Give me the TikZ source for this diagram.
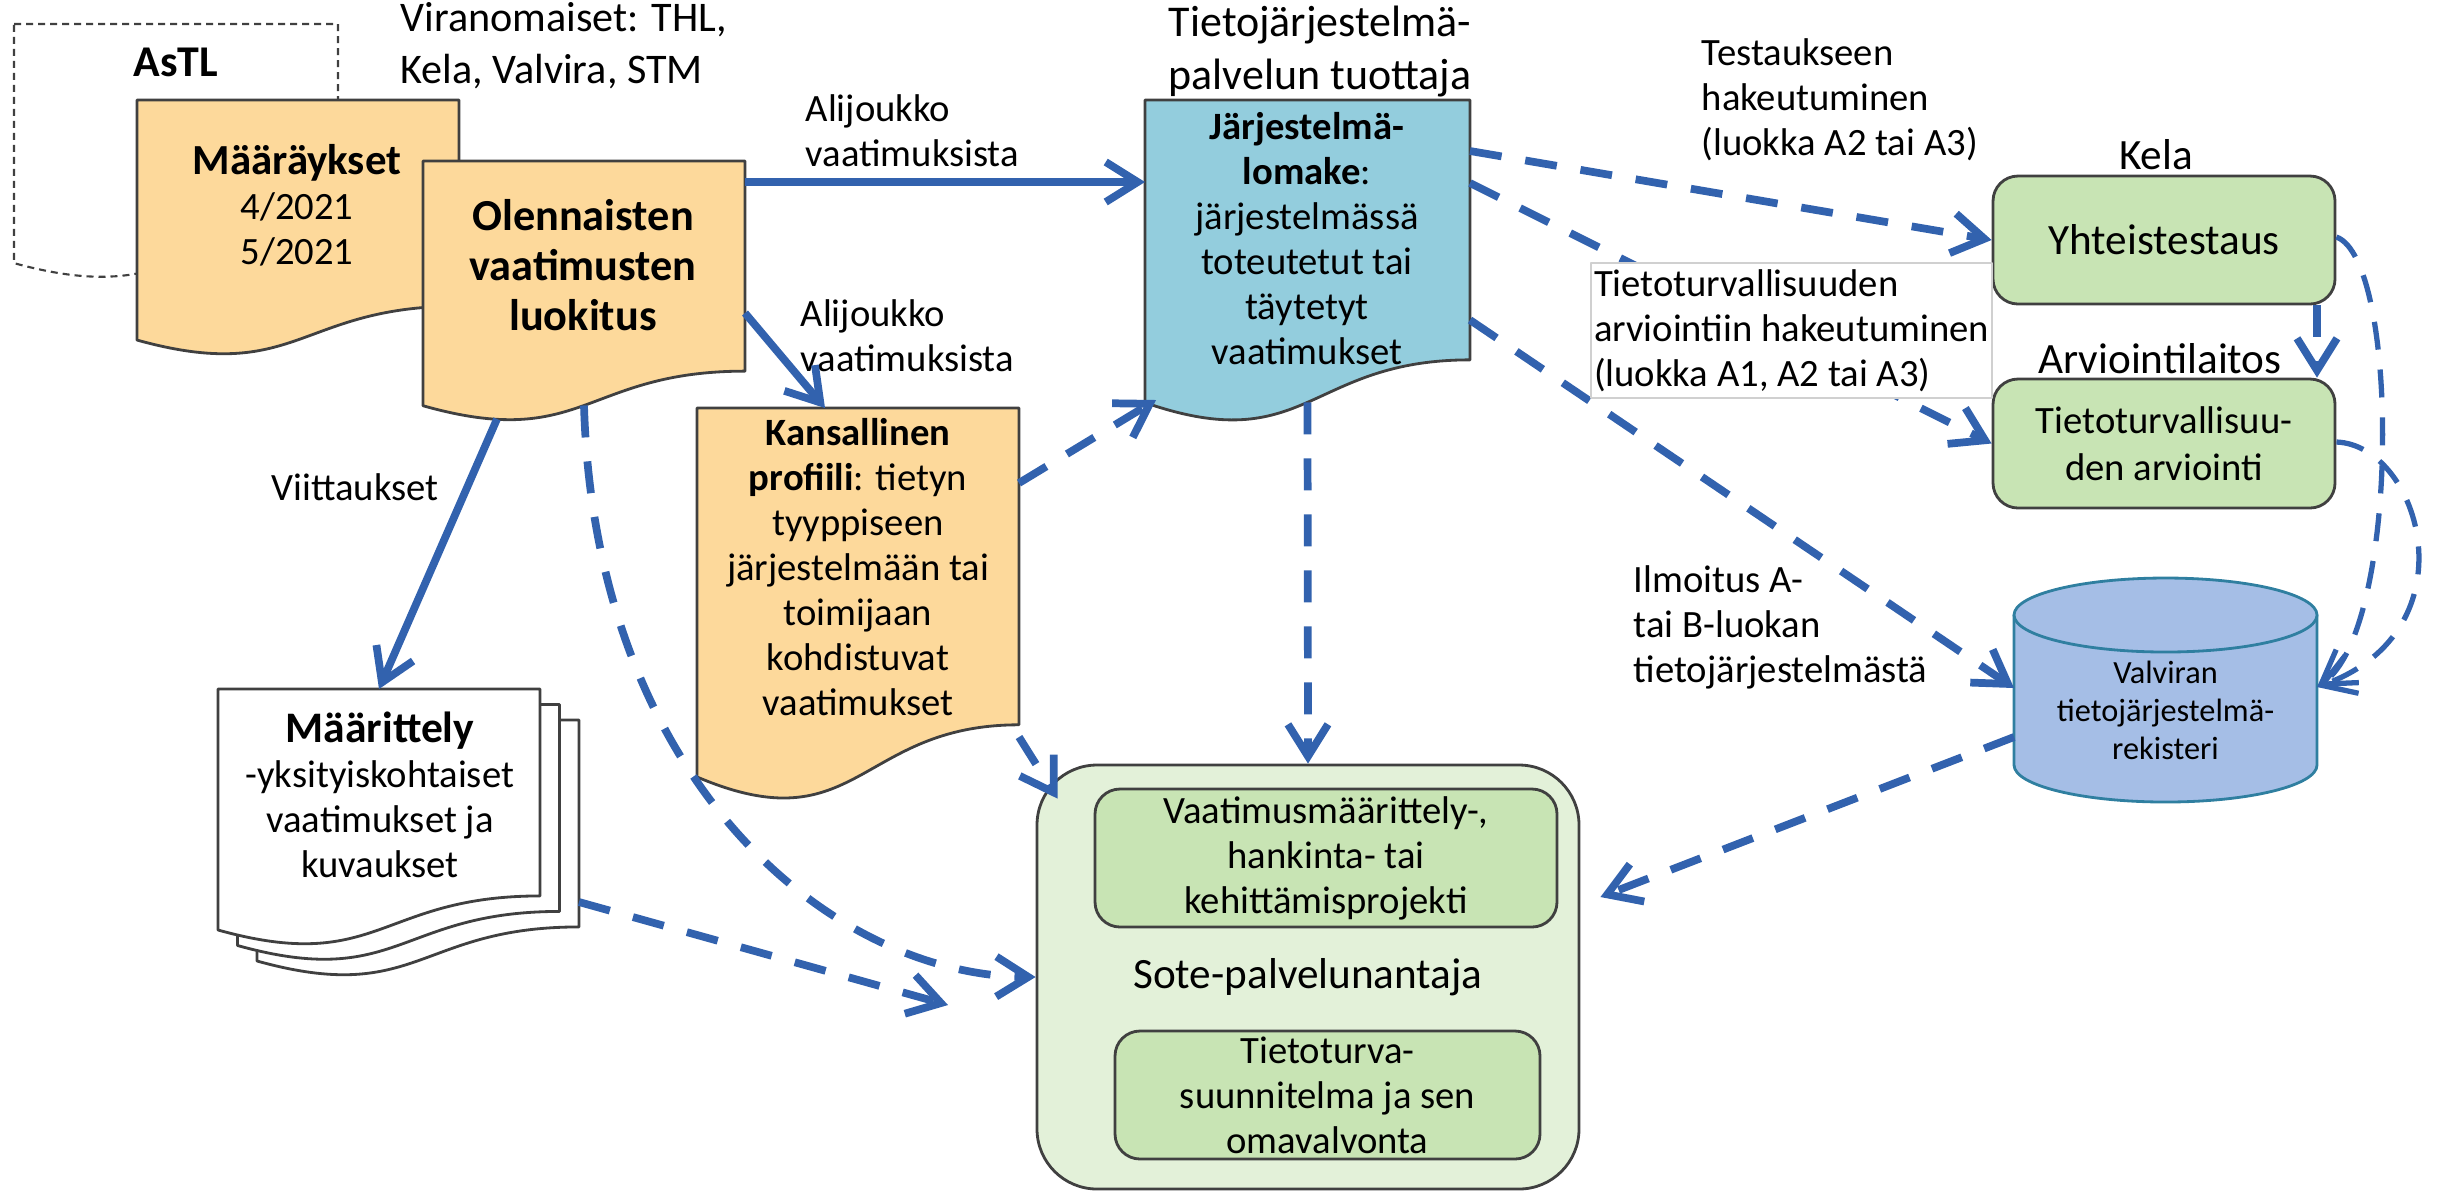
\documentclass[tikz,border=0pt]{standalone}
\usepackage{fontspec}
\setmainfont{Carlito}
\usetikzlibrary{arrows.meta, calc}
\definecolor{docorange}{HTML}{FDD99B}
\definecolor{docblue}{HTML}{93CDDD}
\definecolor{boxgreen}{HTML}{C8E4B4}
\definecolor{sotegreen}{HTML}{E3F1D9}
\definecolor{cylfill}{HTML}{A5BEE6}
\definecolor{cylline}{HTML}{2F7FA0}
\definecolor{flowblue}{HTML}{3262AE}
\definecolor{edgegray}{HTML}{404040}
\definecolor{labelgray}{HTML}{D0D0D0}

\begin{document}
\begin{tikzpicture}[x=1cm, y=-1cm, line join=round]
    % Tyylit: kehykset, tekstit ja nuolet
    \tikzset{
      frame/.style={anchor=north west, inner sep=0pt, outer sep=0pt},
      docline/.style={draw=edgegray, line width=0.8pt},
      body/.style={font=\fontsize{11}{12.8}\selectfont, align=center, inner sep=0pt},
      heading/.style={font=\fontsize{12.3}{14.8}\selectfont, align=center, inner sep=0pt},
      greenbox/.style={draw=edgegray, line width=0.8pt, fill=boxgreen, rounded corners=0.25cm, inner sep=0pt, align=center},
      flow/.style={draw=flowblue, line width=2.2pt, -{Straight Barb[length=3.2mm, width=4mm]}},
      flowdash/.style={flow, dash pattern=on 0.32cm off 0.24cm},
      thindash/.style={flow, line width=1.5pt, dash pattern=on 0.28cm off 0.2cm}
    }
    % Dokumenttisymboli (aaltoileva alareuna) kehyssolmun ympärille
    \def\docshape#1#2#3{%
      \path[docline, fill=#2, #3] (#1.north west) -- (#1.north east)
        -- ($(#1.north east)!0.802!(#1.south east)$)
        .. controls ($(#1.north)!0.802!(#1.south)$) and ($(#1.north)!1.1075!(#1.south)$)
        .. ($(#1.north west)!0.934!(#1.south west)$) -- cycle;}

    \useasboundingbox (0,0) rectangle (24.4,11.91);

    % Dokumenttien kehykset
    \node[frame, minimum width=3.24cm, minimum height=2.56cm] (astl) at (0.14,0.24) {};
    \node[frame, minimum width=3.22cm, minimum height=2.57cm] (maaray) at (1.37,1.00) {};
    \node[frame, minimum width=3.22cm, minimum height=2.62cm] (olen) at (4.23,1.61) {};
    \node[frame, minimum width=3.25cm, minimum height=3.24cm] (jarj) at (11.45,1.00) {};
    \node[frame, minimum width=3.22cm, minimum height=3.95cm] (kans) at (6.97,4.08) {};

    \docshape{astl}{white}{line width=0.6pt, dash pattern=on 0.07cm off 0.05cm}
    \docshape{maaray}{docorange}{}
    \docshape{olen}{docorange}{}
    \docshape{jarj}{docblue}{}
    \docshape{kans}{docorange}{}

    % Määrittely: pino sivuja
    \foreach \i in {2,1} {
      \node[frame, minimum width=3.22cm, minimum height=2.58cm] (maar\i) at ({2.18+0.195*\i},{6.89+0.155*\i}) {};
      \docshape{maar\i}{white}{}
    }
    \node[frame, minimum width=3.22cm, minimum height=2.58cm] (maar) at (2.18,6.89) {};
    \docshape{maar}{white}{}

    % Sote-palvelunantaja ja sen sisälaatikot
    \node[draw=edgegray, line width=0.8pt, fill=sotegreen, rounded corners=0.6cm,
          minimum width=5.42cm, minimum height=4.24cm, heading] (sote) at (13.08,9.77) {Sote-palvelunantaja};
    \node[greenbox, body, minimum width=4.62cm, minimum height=1.38cm] (proj) at (13.26,8.58) {Vaatimusmäärittely-,\\hankinta- tai\\kehittämisprojekti};
    \node[greenbox, body, minimum width=4.25cm, minimum height=1.28cm] (omav) at (13.275,10.95) {Tietoturva-\\suunnitelma ja sen\\omavalvonta};

    % Kela ja arviointilaitos
    \node[greenbox, heading, minimum width=3.42cm, minimum height=1.28cm] (yht) at (21.64,2.40) {Yhteistestaus};
    \node[greenbox, body, font=\fontsize{11}{13.4}\selectfont, minimum width=3.42cm, minimum height=1.29cm] (arv) at (21.64,4.435) {Tietoturvallisuu-\\den arviointi};
    \node[heading] (kela) at (21.56,1.55) {Kela};
    \node[heading] (arvlaitos) at (21.60,3.59) {Arviointilaitos};

    % Valviran rekisteri (sylinteri)
    \node[frame, minimum width=3.03cm, minimum height=2.24cm] (valv) at (20.14,5.78) {};
    \path[draw=cylline, line width=0.8pt, fill=cylfill] (20.14,6.15) -- (20.14,7.65)
      .. controls (20.14,7.854) and (20.818,8.02) .. (21.655,8.02)
      .. controls (22.492,8.02) and (23.17,7.854) .. (23.17,7.65) -- (23.17,6.15) -- cycle;
    \path[draw=cylline, line width=0.8pt, fill=cylfill] (21.655,6.15) ellipse [x radius=1.515cm, y radius=0.37cm];
    \node[body, font=\fontsize{9.2}{10.8}\selectfont] (valvtxt) at (21.655,7.10) {Valviran\\tietojärjestelmä-\\rekisteri};

    % Dokumenttien tekstit
    \node[body, font=\fontsize{12.5}{14}\selectfont\bfseries] (astltxt) at (1.76,0.62) {AsTL};
    \node[body] (maaraytxt) at (2.97,2.05) {{\fontsize{12.2}{14}\selectfont\bfseries Määräykset}\\4/2021\\5/2021};
    \node[body, font=\fontsize{12.6}{14.2}\selectfont\bfseries] (olentxt) at (5.83,2.65) {Olennaisten\\vaatimusten\\luokitus};
    \node[body] (jarjtxt) at (13.07,2.385) {\textbf{Järjestelmä-}\\\textbf{lomake}:\\järjestelmässä\\toteutetut tai\\täytetyt\\vaatimukset};
    \node[body] (kanstxt) at (8.58,5.675) {\textbf{Kansallinen}\\\textbf{profiili}: tietyn\\tyyppiseen\\järjestelmään tai\\toimijaan\\kohdistuvat\\vaatimukset};
    \node[body] (maartxt) at (3.80,7.95) {{\fontsize{12.4}{14}\selectfont\bfseries Määrittely}\\-yksityiskohtaiset\\vaatimukset ja\\kuvaukset};

    % Irralliset otsikot ja nuolten tekstit
    \node[heading, font=\fontsize{12.5}{15}\selectfont] (tuottaja) at (13.20,0.515) {Tietojärjestelmä-\\palvelun tuottaja};
    \node[heading, font=\fontsize{12}{14.8}\selectfont, anchor=west, align=left] (viran) at (4.00,0.46) {Viranomaiset: THL,\\Kela, Valvira, STM};
    \node[body, anchor=west, align=left] (ali1) at (8.05,1.305) {Alijoukko\\vaatimuksista};
    \node[body, anchor=west, align=left] (ali2) at (8.00,3.355) {Alijoukko\\vaatimuksista};
    \node[body] (viitt) at (3.55,4.87) {Viittaukset};
    \node[body, anchor=west, align=left] (testaus) at (17.01,1.00) {Testaukseen\\hakeutuminen\\(luokka A2 tai A3)};
    \node[body, anchor=west, align=left] (ilmoitus) at (16.33,6.27) {Ilmoitus A-\\tai B-luokan\\tietojärjestelmästä};

    % Pisteet aaltoreunoilla ja vapaat päät
    \coordinate (olenb1) at (4.97,4.19);
    \coordinate (olenb2) at ($(olen.north)!0.933!(olen.south)$);
    \coordinate (jarjb1) at (11.56,4.00);
    \coordinate (jarjb2) at ($(jarj.north)!0.933!(jarj.south)$);
    \coordinate (maarend) at (9.48,10.05);

    % Yhtenäiset nuolet
    \draw[flow] (olen.east |- 0,1.82) -- (jarj.west |- 0,1.82);
    \draw[flow] (olen.east |- 0,3.13) -- ([xshift=1.28cm]kans.north west);
    \draw[flow] (olenb1) -- (maar.north);

    % Katkoviivanuolet
    \draw[flowdash] (olenb2) .. controls (5.95,7.8) and (8.3,9.75) .. (sote.west);
    \draw[flowdash] (maar2.east |- 0,9.02) -- (maarend);
    \draw[flowdash] (kans.east |- 0,4.83) -- (jarjb1);
    \draw[flowdash] (kans.east |- 0,7.37) -- ($(sote.north west)+(0.22,0.35)$);
    \draw[flowdash] (jarjb2) -- (sote.north);
    \draw[flowdash] (jarj.east |- 0,1.51) -- (yht.west);
    \draw[flowdash] (jarj.east |- 0,1.83) -- (arv.west);
    \draw[flowdash] (jarj.east |- 0,3.20) -- (valv.west |- 0,6.88);
    \draw[flowdash] (valv.west |- 0,7.37) -- ($(sote.east |- 0,8.97)+(0.2,0)$);
    \draw[flowdash] (yht.south -| 23.17,0) -- (arv.north -| 23.17,0);
    \draw[thindash] (yht.east |- 0,2.37) .. controls (24.0,2.6) and (24.0,6.3) .. (valv.east |- 0,6.87);
    \draw[thindash] (arv.east |- 0,4.42) .. controls (24.2,4.45) and (24.75,6.3) .. (valv.east |- 0,6.87);

    % Tekstilaatikko peittää nuolen
    \node[body, align=left, draw=labelgray, line width=0.5pt, fill=white, inner sep=0.03cm,
          minimum width=4.01cm, minimum height=1.35cm] (tlabel) at (17.915,3.305)
          {Tietoturvallisuuden\\arviointiin hakeutuminen\\(luokka A1, A2 tai A3)};
\end{tikzpicture}
\end{document}
